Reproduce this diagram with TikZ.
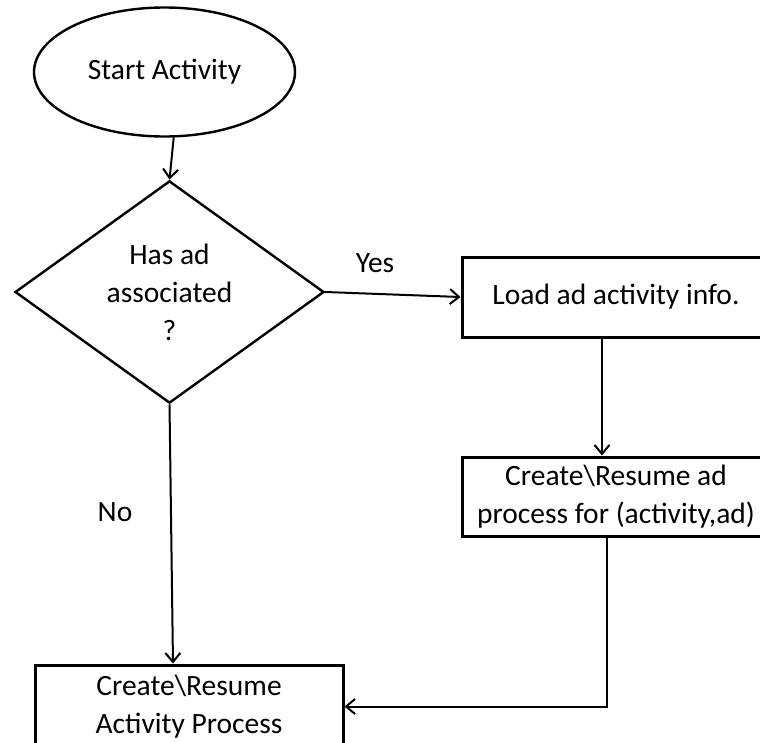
\documentclass[tikz,border=0pt]{standalone}
\usepackage{fontspec}
\setmainfont{Carlito}
\usetikzlibrary{shapes.geometric,arrows.meta}

\begin{document}
\begin{tikzpicture}[x=1pt,y=1pt,
  every node/.style={font=\fontsize{29.5}{38}\selectfont, align=center, inner sep=0pt},
  box/.style={draw, line width=3pt, rectangle, minimum width=308pt},
  startshape/.style={draw, line width=2.4pt, ellipse, minimum width=261pt, minimum height=129pt},
  decision/.style={draw, line width=2.4pt, diamond, minimum width=309pt, minimum height=210pt},
  flow/.style={line width=2pt, -{Straight Barb[length=9pt,width=15pt,line width=2pt]}},
  lbl/.style={}]
  % canvas
  \useasboundingbox (0,0) rectangle (760,-742);
  \clip (0,0) rectangle (760,-742);

  % shapes
  \node[startshape] (start) at (164.5,-72) {Start Activity};
  \node[decision] (dec) at (169.5,-292) {Has ad\\associated\\?};
  \node[box, minimum height=80pt] (load) at (616,-297) {Load ad activity info.};
  \node[box, minimum height=79pt] (adproc) at (616,-496.5) {Create\textbackslash Resume ad\\process for (activity,ad)};
  \node[box, minimum height=83pt] (actproc) at (189,-706.5) {Create\textbackslash Resume\\Activity Process};

  % branch labels
  \node[lbl] (yes) at (375,-263) {Yes};
  \node[lbl] (no) at (115,-512) {No};

  % x positions of the vertical connectors
  \coordinate (lx) at (602,0);
  \coordinate (rx) at (607,0);
  \coordinate (nx) at (173,0);

  % connectors
  \draw[flow] (start.-82) -- (dec.north);
  \draw[flow] (dec.east) -- (load.west);
  \draw[flow] (load.south -| lx) -- (adproc.north -| lx);
  \draw[flow] (dec.south) -- (actproc.north -| nx);
  \draw[flow] (adproc.south -| rx) |- (actproc.east);
\end{tikzpicture}
\end{document}
